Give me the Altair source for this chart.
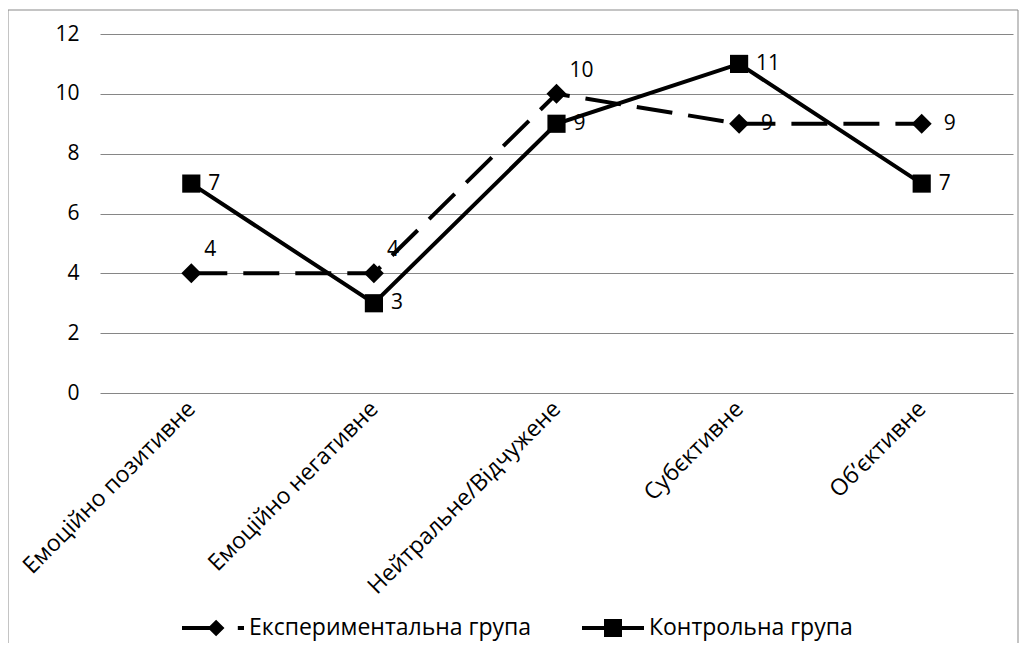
import altair as alt
import pandas as pd

categories = ["Емоційно позитивне", "Емоційно негативне", "Нейтральне/Відчужене", "Субєктивне", "Об’єктивне"]
series_names = ["Експериментальна група", "Контрольна група"]
experimental = [4, 4, 10, 9, 9]
control = [7, 3, 9, 11, 7]

rows = []
for c, v in zip(categories, experimental):
    rows.append({"category": c, "series": series_names[0], "value": v})
for c, v in zip(categories, control):
    rows.append({"category": c, "series": series_names[1], "value": v})
df = pd.DataFrame(rows)

FONT = "Open Sans"

x_enc = alt.X("category:N", sort=categories,
              scale=alt.Scale(type="point", padding=0.5),
              axis=alt.Axis(title=None, labelAngle=-45, labelAlign="right", labelBaseline="middle",
                            labelFontSize=23, labelFont=FONT, labelColor="#000000",
                            ticks=False, domain=False, grid=False, labelPadding=12,
                            labelLimit=400))
y_enc = alt.Y("value:Q", scale=alt.Scale(domain=[0, 12], nice=False),
              axis=alt.Axis(title=None, values=[0, 2, 4, 6, 8, 10, 12], labelFontSize=21,
                            labelFont=FONT, labelColor="#000000", ticks=False, domain=False,
                            grid=True, gridColor="#868686", gridWidth=1, labelPadding=21))

base = alt.Chart(df)

frame = alt.Chart(pd.DataFrame({"k": [0]})).mark_rect(
    fill=None, stroke="#898989", strokeWidth=1, clip=False
).encode(x=alt.value(-92), x2=alt.value(918), y=alt.value(-24), y2=alt.value(640))

exp_line = base.transform_filter(alt.datum.series == series_names[0]).mark_line(
    color="black", strokeWidth=4, strokeDash=[36, 16]
).encode(x=x_enc, y=y_enc)

ctrl_line = base.transform_filter(alt.datum.series == series_names[1]).mark_line(
    color="black", strokeWidth=4
).encode(x=x_enc, y=y_enc)

exp_pts = base.transform_filter(alt.datum.series == series_names[0]).mark_point(
    shape="diamond", filled=True, color="black", size=400, opacity=1
).encode(x=x_enc, y=y_enc)

ctrl_pts = base.transform_filter(alt.datum.series == series_names[1]).mark_point(
    shape="square", filled=True, color="black", size=330, opacity=1
).encode(x=x_enc, y=y_enc)

exp_sym = ("M -1 -0.065 L 0.1 -0.065 L 0.1 0.065 L -1 0.065 Z "
           "M 0.1 -0.27 L 0.37 0 L 0.1 0.27 L -0.17 0 Z "
           "M 0.8 -0.065 L 1 -0.065 L 1 0.065 L 0.8 0.065 Z")
ctrl_sym = ("M -1 -0.065 L 1 -0.065 L 1 0.065 L -1 0.065 Z "
            "M -0.29 -0.29 L 0.29 -0.29 L 0.29 0.29 L -0.29 0.29 Z")

legend_layer = base.mark_point(filled=True, opacity=0, color="black").encode(
    x=x_enc, y=y_enc,
    shape=alt.Shape("series:N", sort=series_names,
                    scale=alt.Scale(domain=series_names, range=[exp_sym, ctrl_sym]),
                    legend=alt.Legend(title=None, orient="none", direction="horizontal",
                                      legendX=82, legendY=563, padding=0,
                                      symbolSize=3844, symbolFillColor="black",
                                      symbolStrokeColor="black", symbolStrokeWidth=0,
                                      symbolOpacity=1, labelFont=FONT, labelFontSize=23,
                                      labelColor="#000000", labelOffset=5, columnPadding=50,
                                      labelLimit=500))
)

lbl_style = dict(font=FONT, fontSize=21, color="black", align="left", baseline="middle")

exp_lbl_a = base.transform_filter(alt.datum.series == series_names[0]).transform_filter(
    alt.FieldOneOfPredicate(field="category", oneOf=categories[:3])
).mark_text(dx=13, dy=-23, **lbl_style).encode(x=x_enc, y=y_enc, text="value:Q")

exp_lbl_b = base.transform_filter(alt.datum.series == series_names[0]).transform_filter(
    alt.FieldOneOfPredicate(field="category", oneOf=categories[3:])
).mark_text(dx=22, dy=0, **lbl_style).encode(x=x_enc, y=y_enc, text="value:Q")

ctrl_lbl = base.transform_filter(alt.datum.series == series_names[1]).mark_text(
    dx=17, dy=0, **lbl_style
).encode(x=x_enc, y=y_enc, text="value:Q")

chart = alt.layer(
    frame, exp_line, ctrl_line, exp_pts, ctrl_pts, legend_layer,
    exp_lbl_a, exp_lbl_b, ctrl_lbl
).properties(
    width=913, height=359,
    autosize=alt.AutoSizeParams(type="none"),
    padding={"left": 92, "top": 26, "right": 6, "bottom": 250},
    background="white"
).configure_view(stroke=None)

chart.save("out.html", embed_options={"renderer": "svg", "actions": False})
